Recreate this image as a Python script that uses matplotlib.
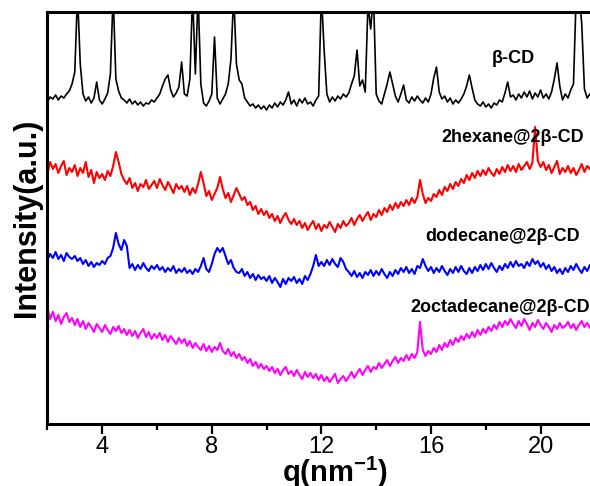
import numpy as np
import matplotlib
matplotlib.use("Agg")
import matplotlib.pyplot as plt

plt.rcParams['font.family'] = ['Liberation Sans', 'DejaVu Sans']
plt.rcParams['mathtext.default'] = 'regular'

q_start, q_step = 2.0, 0.1

beta_cd = [
    322, 327, 325, 329, 324, 328, 326, 330, 333, 340,
    352, 430, 360, 330, 323, 327, 321, 326, 342, 324,
    320, 325, 331, 350, 430, 345, 333, 326, 324, 321,
    325, 320, 323, 319, 322, 318, 321, 320, 324, 322,
    326, 330, 338, 345, 349, 334, 327, 331, 337, 362,
    330, 328, 345, 430, 350, 430, 340, 321, 318, 323,
    330, 387, 326, 320, 325, 330, 340, 365, 430, 360,
    344, 340, 326, 322, 318, 320, 316, 319, 315, 318,
    314, 319, 316, 321, 317, 322, 319, 324, 332, 320,
    324, 318, 325, 321, 326, 320, 322, 318, 324, 328,
    430, 374, 330, 322, 327, 323, 328, 325, 330, 327,
    331, 340, 348, 374, 338, 344, 332, 420, 395, 430,
    330, 323, 320, 330, 340, 352, 340, 328, 322, 330,
    339, 324, 321, 327, 323, 328, 324, 321, 326, 322,
    330, 346, 357, 332, 325, 328, 322, 326, 320, 324,
    321, 325, 330, 338, 349, 336, 324, 320, 318, 322,
    317, 320, 316, 321, 319, 324, 322, 331, 342, 327,
    329, 324, 330, 326, 332, 327, 333, 325, 331, 327,
    334, 326, 330, 325, 332, 345, 361, 338, 324, 330,
    326, 334, 340, 430, 430, 401, 335, 326, 330, 327,
]

hexane = [
    250, 262, 255, 260, 251, 258, 263, 249, 256, 252,
    259, 248, 256, 251, 262, 247, 254, 241, 252, 246,
    250, 244, 253, 248, 258, 272, 262, 250, 244, 240,
    246, 236, 241, 233, 240, 237, 244, 235, 239, 243,
    236, 245, 239, 234, 242, 237, 231, 240, 235, 238,
    232, 238, 229, 236, 231, 240, 252, 241, 228, 233,
    224, 230, 236, 247, 235, 226, 231, 222, 229, 236,
    230, 224, 227, 219, 222, 214, 218, 210, 215, 209,
    213, 206, 210, 203, 208, 201, 207, 211, 204, 200,
    205, 199, 203, 196, 201, 194, 199, 203, 195, 200,
    193, 199, 196, 202, 197, 192, 200, 196, 203, 198,
    201, 206, 199, 205, 209, 203, 208, 212, 204, 210,
    207, 214, 209, 216, 212, 219, 214, 221, 216, 222,
    218, 224, 219, 226, 221, 227, 244, 230, 221, 226,
    223, 230, 227, 234, 229, 237, 233, 240, 235, 242,
    238, 245, 241, 249, 244, 251, 246, 253, 248, 254,
    249, 256, 251, 248, 255, 250, 257, 252, 259, 253,
    258, 252, 260, 254, 258, 262, 255, 261, 297, 263,
    257, 262, 254, 259, 251, 257, 263, 250, 256, 252,
    258, 251, 256, 249, 254, 260, 252, 258, 255, 261,
]

dodecane = [
    164, 170, 166, 172, 165, 169, 163, 171, 167, 165,
    168, 163, 166, 160, 164, 158, 162, 157, 161, 159,
    163, 160, 166, 168, 176, 191, 180, 174, 184, 178,
    156, 160, 154, 159, 155, 161, 156, 153, 158, 155,
    159, 154, 157, 152, 156, 153, 158, 151, 155, 152,
    156, 151, 154, 150, 155, 152, 158, 166, 155, 152,
    160, 170, 176, 172, 176, 168, 160, 164, 156, 152,
    151, 155, 148, 152, 146, 150, 144, 149, 145, 147,
    143, 148, 141, 146, 142, 137, 145, 140, 146, 143,
    147, 141, 145, 140, 148, 144, 150, 158, 169, 158,
    162, 158, 164, 159, 165, 160, 157, 166, 162, 155,
    152, 148, 153, 147, 151, 146, 152, 149, 154, 148,
    153, 149, 155, 150, 146, 152, 148, 154, 150, 156,
    152, 157, 151, 155, 150, 158, 156, 165, 158, 153,
    157, 151, 156, 152, 158, 153, 149, 155, 151, 157,
    152, 158, 153, 150, 156, 151, 157, 153, 159, 154,
    160, 155, 161, 156, 152, 158, 154, 160, 156, 162,
    157, 163, 158, 160, 156, 162, 158, 165, 160, 163,
    157, 161, 155, 159, 153, 157, 151, 155, 150, 156,
    152, 158, 154, 160, 155, 151, 157, 153, 159, 156,
]

octadecane = [
    116, 105, 112, 103, 109, 100, 107, 111, 102, 106,
    99, 105, 97, 103, 95, 101, 97, 92, 100, 96,
    92, 99, 94, 90, 97, 93, 98, 91, 95, 89,
    94, 88, 93, 86, 91, 95, 87, 92, 85, 90,
    86, 91, 84, 89, 82, 88, 84, 80, 86, 81,
    85, 78, 83, 76, 81, 77, 74, 80, 73, 78,
    72, 77, 74, 81, 73, 70, 75, 68, 72, 66,
    70, 64, 67, 61, 65, 58, 62, 56, 60, 55,
    58, 53, 57, 51, 55, 49, 54, 57, 50, 53,
    48, 54, 49, 45, 52, 47, 51, 46, 50, 44,
    49, 43, 47, 42, 46, 50, 41, 45, 48, 43,
    47, 52, 46, 51, 55, 49, 54, 58, 52, 57,
    55, 61, 56, 60, 64, 58, 63, 67, 61, 66,
    63, 69, 64, 70, 66, 72, 102, 74, 68, 73,
    70, 76, 72, 79, 74, 81, 77, 84, 79, 86,
    82, 88, 84, 90, 86, 92, 87, 94, 89, 95,
    91, 97, 93, 99, 95, 102, 97, 103, 99, 105,
    100, 96, 103, 98, 105, 100, 94, 101, 97, 104,
    99, 95, 101, 97, 92, 99, 95, 101, 96, 98,
    102, 96, 100, 94, 99, 103, 97, 101, 96, 102,
]

series_names = ["β-CD", "2hexane@2β-CD", "dodecane@2β-CD", "2octadecane@2β-CD"]
series_colors = ["black", "#ff0000", "#0000ff", "#ff00ff"]
series_lw = [1.2, 1.5, 1.5, 1.5]
x_ticks = [4, 8, 12, 16, 20]

fig = plt.figure(figsize=(5.9, 4.86), dpi=100)
ax = fig.add_axes([0.0803, 0.1276, 0.9753, 0.8477])

for vals, col, lw in zip([beta_cd, hexane, dodecane, octadecane], series_colors, series_lw):
    q = q_start + q_step * np.arange(len(vals))
    ax.plot(q, vals, color=col, lw=lw)

ax.set_xlim(2, 23)
ax.set_ylim(0, 412)
ax.set_xticks(x_ticks)
ax.set_xticks([2, 6, 10, 14, 18, 22], minor=True)
ax.set_yticks([])
ax.tick_params(axis='x', which='major', length=7, width=1.6, labelsize=17, pad=2)
ax.tick_params(axis='x', which='minor', length=4, width=1.6)
for s in ['left', 'bottom', 'top']:
    ax.spines[s].set_linewidth(2.2)
ax.spines['right'].set_visible(False)

ax.set_xlabel('q(nm$^{-1}$)', fontsize=21, fontweight='bold', labelpad=-3)
ax.set_ylabel('Intensity(a.u.)', fontsize=22, fontweight='bold', labelpad=4)

lab_kw = dict(fontsize=13, fontweight='bold', va='center')
ax.text(19.0, 366, series_names[0], ha='center', **lab_kw)
ax.text(18.97, 286, series_names[1], ha='center', **lab_kw)
ax.text(18.6, 187, series_names[2], ha='center', **lab_kw)
ax.text(15.23, 116, series_names[3], ha='left', **lab_kw)

fig.savefig('out.png', dpi=100)
